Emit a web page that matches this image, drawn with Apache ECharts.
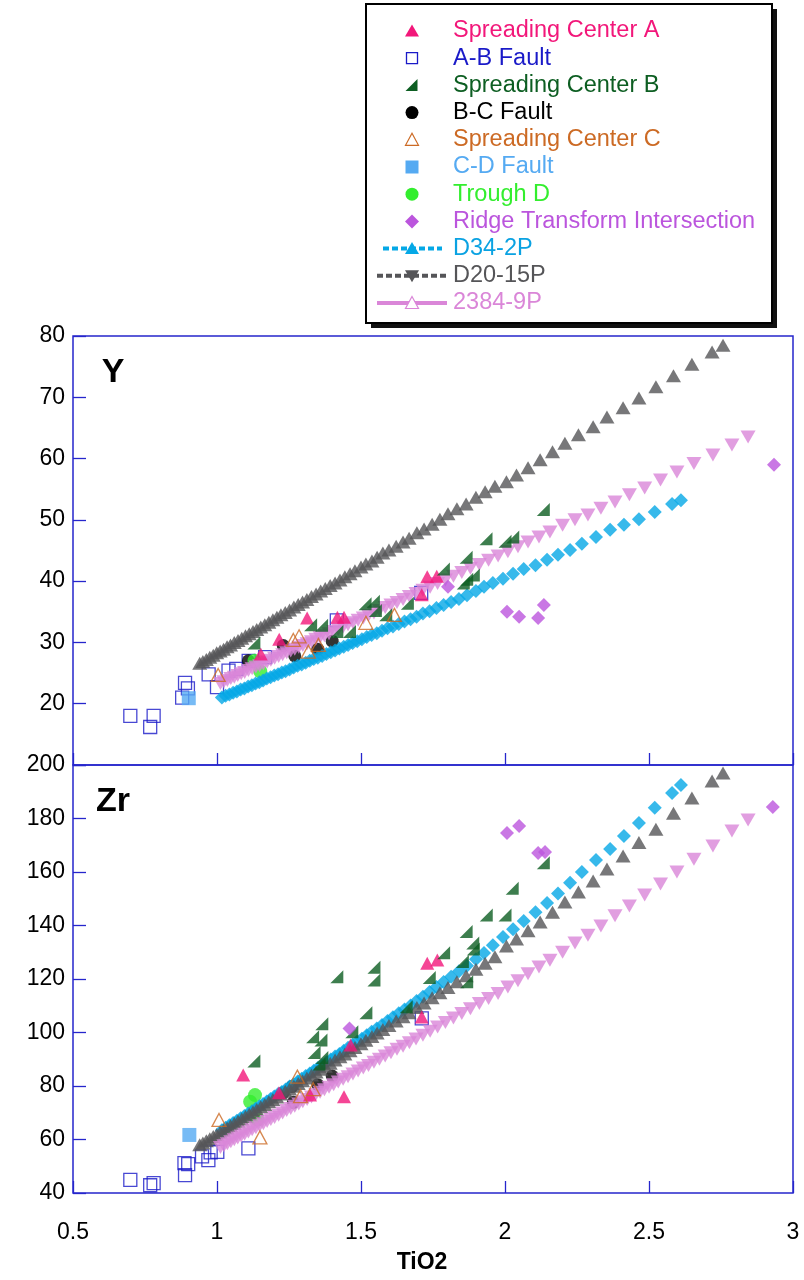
<!DOCTYPE html>
<html>
<head>
<meta charset="utf-8">
<script src="https://cdn.jsdelivr.net/npm/echarts@6/dist/echarts.min.js"></script>
<style>
  html, body { margin: 0; padding: 0; background: #fff; }
  #chart { width: 804px; height: 1280px; }
</style>
</head>
<body>
<div id="chart"></div>
<script>
// ---- axis ticks ----
const xTickLabels = [0.5, 1, 1.5, 2, 2.5, 3];
const yTicksY = [10, 20, 30, 40, 50, 60, 70, 80];
const yTicksZr = [40, 60, 80, 100, 120, 140, 160, 180, 200];

// ---- model curves: D34-2P ----
const d34TiO2 = [1.017, 1.03, 1.043, 1.056, 1.069, 1.082, 1.095, 1.108, 1.121, 1.134, 1.147, 1.16, 1.173, 1.186, 1.199, 1.212, 1.225, 1.238, 1.252, 1.266, 1.28, 1.294, 1.308, 1.322, 1.336, 1.35, 1.365, 1.38, 1.395, 1.41, 1.425, 1.44, 1.455, 1.471, 1.487, 1.503, 1.52, 1.537, 1.555, 1.573, 1.592, 1.611, 1.631, 1.651, 1.672, 1.693, 1.715, 1.738, 1.762, 1.787, 1.813, 1.84, 1.868, 1.899, 1.927, 1.958, 1.993, 2.028, 2.065, 2.106, 2.146, 2.184, 2.226, 2.267, 2.316, 2.365, 2.413, 2.465, 2.52, 2.58, 2.611];
const d34Y = [21.0, 21.3, 21.5, 21.8, 22.0, 22.3, 22.5, 22.8, 23.0, 23.3, 23.5, 23.8, 24.1, 24.3, 24.6, 24.8, 25.1, 25.3, 25.6, 25.9, 26.2, 26.4, 26.7, 27.0, 27.3, 27.5, 27.8, 28.1, 28.4, 28.7, 29.0, 29.3, 29.6, 29.9, 30.2, 30.5, 30.9, 31.2, 31.5, 31.9, 32.3, 32.6, 33.0, 33.4, 33.8, 34.2, 34.7, 35.1, 35.6, 36.1, 36.6, 37.1, 37.7, 38.4, 39.1, 39.7, 40.4, 41.2, 42.0, 42.6, 43.5, 44.3, 45.1, 46.1, 47.2, 48.4, 49.2, 50.1, 51.3, 52.6, 53.2];
const d34Zr = [63.5, 64.4, 65.3, 66.2, 67.0, 67.9, 68.8, 69.7, 70.6, 71.5, 72.4, 73.3, 74.2, 75.1, 76.1, 77.0, 77.8, 78.7, 79.8, 80.7, 81.7, 82.7, 83.7, 84.7, 85.7, 86.7, 87.8, 88.9, 89.9, 91.0, 92.0, 93.2, 94.3, 95.4, 96.6, 97.7, 99.0, 100.3, 101.5, 102.8, 104.3, 105.7, 107.2, 108.6, 110.1, 111.8, 113.4, 115.1, 117.0, 118.9, 120.8, 122.9, 125.0, 127.4, 129.7, 132.6, 135.7, 138.6, 141.7, 145.0, 148.4, 152.0, 156.0, 160.0, 164.5, 168.6, 173.5, 178.3, 184.0, 189.5, 192.5];

// ---- model curves: D20-15P ----
const d20TiO2 = [0.94, 0.951, 0.963, 0.975, 0.987, 0.999, 1.011, 1.023, 1.035, 1.047, 1.06, 1.073, 1.086, 1.099, 1.112, 1.125, 1.138, 1.152, 1.166, 1.18, 1.194, 1.208, 1.222, 1.237, 1.252, 1.267, 1.282, 1.297, 1.312, 1.328, 1.344, 1.36, 1.376, 1.393, 1.41, 1.427, 1.444, 1.462, 1.479, 1.5, 1.517, 1.538, 1.556, 1.576, 1.597, 1.622, 1.646, 1.667, 1.694, 1.719, 1.747, 1.774, 1.802, 1.833, 1.865, 1.899, 1.931, 1.965, 2.005, 2.04, 2.08, 2.122, 2.165, 2.208, 2.255, 2.306, 2.354, 2.41, 2.465, 2.524, 2.585, 2.649, 2.719, 2.757];
const d20Y = [26.6, 26.9, 27.2, 27.6, 27.9, 28.3, 28.6, 28.9, 29.3, 29.6, 30.0, 30.3, 30.7, 31.1, 31.4, 31.8, 32.1, 32.5, 32.9, 33.3, 33.7, 34.1, 34.5, 34.9, 35.3, 35.8, 36.2, 36.6, 37.0, 37.5, 37.9, 38.4, 38.8, 39.3, 39.7, 40.2, 40.7, 41.2, 41.7, 42.3, 42.8, 43.3, 43.9, 44.6, 45.1, 45.7, 46.4, 47.0, 47.9, 48.5, 49.3, 50.1, 51.0, 51.8, 52.6, 53.7, 54.6, 55.5, 56.2, 57.3, 58.5, 59.8, 61.1, 62.5, 63.9, 65.2, 66.8, 68.3, 69.9, 71.7, 73.5, 75.4, 77.4, 78.5];
const d20Zr = [58.0, 58.7, 59.5, 60.3, 61.1, 61.9, 62.7, 63.5, 64.3, 65.1, 66.0, 66.8, 67.7, 68.6, 69.4, 70.3, 71.2, 72.2, 73.1, 74.1, 75.0, 75.9, 77.0, 78.0, 78.9, 79.9, 80.9, 82.0, 83.0, 84.1, 85.2, 86.3, 87.4, 88.5, 89.7, 90.9, 92.0, 93.2, 94.4, 95.8, 97.1, 98.5, 99.8, 101.1, 102.6, 104.3, 105.9, 107.4, 109.3, 111.0, 113.0, 114.9, 116.8, 119.0, 121.2, 123.6, 125.9, 128.3, 132.3, 135.0, 138.0, 141.3, 145.0, 148.8, 152.5, 156.6, 161.1, 166.0, 171.0, 176.0, 182.0, 187.7, 194.0, 197.0];

// ---- model curves: 2384-9P ----
const p2384TiO2 = [1.012, 1.024, 1.036, 1.048, 1.06, 1.072, 1.084, 1.096, 1.109, 1.122, 1.135, 1.148, 1.161, 1.174, 1.187, 1.2, 1.214, 1.228, 1.242, 1.256, 1.27, 1.284, 1.298, 1.313, 1.328, 1.343, 1.358, 1.373, 1.389, 1.405, 1.421, 1.438, 1.455, 1.472, 1.49, 1.508, 1.526, 1.545, 1.564, 1.584, 1.604, 1.625, 1.646, 1.668, 1.691, 1.715, 1.74, 1.766, 1.793, 1.821, 1.85, 1.88, 1.911, 1.943, 1.976, 2.01, 2.045, 2.08, 2.118, 2.156, 2.2, 2.243, 2.288, 2.333, 2.382, 2.432, 2.485, 2.54, 2.597, 2.656, 2.722, 2.788, 2.844];
const p2384Y = [23.3, 23.6, 23.8, 24.1, 24.3, 24.6, 24.9, 25.1, 25.4, 25.7, 26.0, 26.2, 26.5, 26.8, 27.1, 27.4, 27.7, 28.0, 28.3, 28.6, 28.9, 29.2, 29.5, 29.8, 30.1, 30.5, 30.8, 31.1, 31.4, 31.8, 32.1, 32.5, 32.9, 33.2, 33.6, 34.0, 34.4, 34.8, 35.2, 35.7, 36.1, 36.5, 37.0, 37.5, 38.0, 38.5, 39.0, 39.6, 40.2, 40.8, 41.4, 42.1, 42.7, 43.4, 44.1, 44.8, 45.6, 46.4, 47.2, 48.0, 49.1, 50.0, 50.8, 51.9, 52.9, 54.1, 55.2, 56.5, 57.8, 59.2, 60.6, 62.2, 63.5];
const p2384Zr = [57.0, 57.7, 58.4, 59.2, 59.9, 60.6, 61.3, 62.0, 62.8, 63.6, 64.4, 65.1, 65.9, 66.7, 67.5, 68.2, 69.1, 69.9, 70.8, 71.6, 72.4, 73.3, 74.1, 75.0, 75.9, 76.8, 77.7, 78.6, 79.5, 80.5, 81.5, 82.5, 83.5, 84.5, 85.6, 86.7, 87.7, 88.9, 90.0, 91.2, 92.4, 93.7, 94.9, 96.2, 97.6, 99.0, 100.5, 102.1, 103.7, 105.4, 107.1, 108.9, 110.8, 112.7, 114.6, 117.0, 119.3, 122.0, 124.5, 127.0, 130.0, 133.5, 136.4, 139.8, 143.6, 147.3, 151.4, 155.5, 160.0, 164.8, 169.7, 175.3, 179.4];

// ---- samples: [TiO2, Y] ----
const scA_Y = [[1.152, 28.1], [1.216, 30.5], [1.313, 34.0], [1.418, 34.1], [1.441, 34.1], [1.711, 37.8], [1.73, 40.7], [1.763, 40.8]];
const abFault_Y = [[0.699, 18.0], [0.768, 16.2], [0.78, 18.0], [0.879, 21.0], [0.889, 23.4], [0.899, 22.5], [0.971, 24.8], [1.0, 22.7], [1.04, 25.4], [1.067, 25.7], [1.11, 27.0], [1.167, 27.6], [1.416, 33.6], [1.709, 38.1]];
const scB_Y = [[1.128, 29.9], [1.325, 32.9], [1.363, 32.8], [1.416, 31.8], [1.46, 31.8], [1.514, 36.3], [1.543, 36.7], [1.55, 35.2], [1.586, 34.5], [1.661, 36.4], [1.786, 42.0], [1.855, 39.7], [1.867, 40.3], [1.89, 41.0], [1.865, 43.9], [1.934, 46.9], [2.0, 46.5], [2.027, 47.2], [2.133, 51.7]];
const bcFault_Y = [[1.109, 27.0], [1.23, 29.5], [1.27, 27.8], [1.35, 28.9], [1.40, 30.2]];
const scC_Y = [[1.004, 24.7], [1.265, 30.4], [1.285, 31.0], [1.317, 28.5], [1.352, 29.6], [1.517, 33.2], [1.616, 34.5]];
const cdFault_Y = [[0.902, 20.9]];
const troughD_Y = [[1.13, 27.0], [1.15, 25.3]];
const rti_Y = [[1.802, 39.1], [2.007, 35.0], [2.049, 34.2], [2.115, 34.0], [2.135, 36.1], [2.934, 59.0]];

// ---- samples: [TiO2, Zr] ----
const scA_Zr = [[1.091, 84.1], [1.215, 77.5], [1.323, 76.6], [1.441, 76.0], [1.464, 95.3], [1.711, 105.8], [1.73, 125.9], [1.765, 127.1]];
const abFault_Zr = [[0.699, 44.9], [0.768, 42.9], [0.78, 43.7], [0.887, 51.2], [0.889, 46.7], [0.9, 50.8], [0.948, 53.7], [0.97, 52.3], [0.978, 55.2], [1.001, 55.4], [1.109, 56.7], [1.711, 105.3]];
const scB_Zr = [[1.128, 89.3], [1.332, 98.4], [1.337, 92.5], [1.354, 88.2], [1.361, 97.2], [1.364, 90.7], [1.364, 103.3], [1.416, 120.8], [1.468, 100.3], [1.517, 107.4], [1.545, 124.4], [1.545, 119.6], [1.657, 109.6], [1.737, 120.6], [1.787, 129.8], [1.852, 126.5], [1.865, 137.8], [1.867, 119.0], [1.888, 133.5], [1.89, 131.2], [1.935, 143.9], [2.0, 143.9], [2.025, 153.9], [2.133, 163.5]];
const bcFault_Zr = [[1.23, 77.5], [1.26, 79.8], [1.265, 73.9], [1.35, 80.5], [1.40, 83.7]];
const scC_Zr = [[1.007, 67.3], [1.149, 60.8], [1.279, 83.5], [1.29, 76.2], [1.334, 78.8]];
const cdFault_Zr = [[0.904, 61.7]];
const troughD_Zr = [[1.115, 74.1], [1.132, 76.6], [1.14, 67.5]];
const rti_Zr = [[1.46, 101.5], [2.007, 174.6], [2.049, 177.2], [2.115, 167.1], [2.139, 167.5], [2.93, 184.3]];

// ---- styling ----
const FONT = 'Liberation Sans, Arial, Helvetica, sans-serif';
const FRAME = '#2626cc';
const C = {
  scA: '#f2177a', ab: '#1a1ac8', scB: '#0d5e22', bc: '#000000', scC: '#cc6a24',
  cd: '#55aaf2', tr: '#33ee2e', rti: '#bb55dd', d34: '#05a8e6', d20: '#555558', p2384: '#da86d8'
};
const rightTri = 'path://M10,0 L10,10 L0,10 Z';

function zip(xs, ys) { return xs.map((x, i) => [x, ys[i]]); }

// series for one panel (index 0 = Y, 1 = Zr); sample groups that sit under the
// model curves come first, the rest are drawn above them
function panelSeries(k, d) {
  const base = { type: 'scatter', xAxisIndex: k, yAxisIndex: k, silent: true };
  return [
    Object.assign({}, base, { name: 'A-B Fault', data: d.ab, symbol: 'rect', symbolSize: 13,
      itemStyle: { color: 'rgba(0,0,0,0)', borderColor: C.ab, borderWidth: 1.3 } }),
    Object.assign({}, base, { name: 'B-C Fault', data: d.bc, symbol: 'circle', symbolSize: 13,
      itemStyle: { color: C.bc } }),
    Object.assign({}, base, { name: 'C-D Fault', data: d.cd, symbol: 'rect', symbolSize: 14,
      itemStyle: { color: C.cd } }),
    Object.assign({}, base, { name: 'Trough D', data: d.tr, symbol: 'circle', symbolSize: 14,
      itemStyle: { color: C.tr } }),
    Object.assign({}, base, { name: 'D34-2P', data: d.d34, symbol: 'diamond', symbolSize: [14, 14],
      itemStyle: { color: C.d34 } }),
    Object.assign({}, base, { name: 'D20-15P', data: d.d20, symbol: 'triangle', symbolSize: [15, 13],
      itemStyle: { color: C.d20 } }),
    Object.assign({}, base, { name: '2384-9P', data: d.p2384, symbol: 'triangle', symbolRotate: 180, symbolSize: [15, 13],
      itemStyle: { color: C.p2384 } }),
    Object.assign({}, base, { name: 'Spreading Center A', data: d.scA, symbol: 'triangle', symbolSize: [14, 13],
      itemStyle: { color: C.scA } }),
    Object.assign({}, base, { name: 'Spreading Center B', data: d.scB, symbol: rightTri, symbolSize: [13, 13],
      itemStyle: { color: C.scB } }),
    Object.assign({}, base, { name: 'Spreading Center C', data: d.scC, symbol: 'triangle', symbolSize: [14, 13],
      itemStyle: { color: 'rgba(0,0,0,0)', borderColor: C.scC, borderWidth: 1.3 } }),
    Object.assign({}, base, { name: 'Ridge Transform Intersection', data: d.rti, symbol: 'diamond', symbolSize: [14, 14],
      itemStyle: { color: C.rti } })
  ];
}

const seriesY = panelSeries(0, {
  ab: abFault_Y, bc: bcFault_Y, cd: cdFault_Y, tr: troughD_Y,
  d34: zip(d34TiO2, d34Y), d20: zip(d20TiO2, d20Y), p2384: zip(p2384TiO2, p2384Y),
  scA: scA_Y, scB: scB_Y, scC: scC_Y, rti: rti_Y
});
const seriesZr = panelSeries(1, {
  ab: abFault_Zr, bc: bcFault_Zr, cd: cdFault_Zr, tr: troughD_Zr,
  d34: zip(d34TiO2, d34Zr), d20: zip(d20TiO2, d20Zr), p2384: zip(p2384TiO2, p2384Zr),
  scA: scA_Zr, scB: scB_Zr, scC: scC_Zr, rti: rti_Zr
});

function xAxisFor(k) {
  return {
    type: 'value', gridIndex: k,
    min: xTickLabels[0], max: xTickLabels[xTickLabels.length - 1], interval: 0.5,
    axisLine: { show: false },
    axisTick: { show: true, inside: true, length: 12, lineStyle: { color: FRAME, width: 1.3 } },
    splitLine: { show: false },
    axisLabel: { show: k === 1, margin: 28, fontSize: 23, color: '#000', fontFamily: FONT }
  };
}
function yAxisFor(k, ticks, hideFirst) {
  return {
    type: 'value', gridIndex: k,
    min: ticks[0], max: ticks[ticks.length - 1], interval: ticks[1] - ticks[0],
    axisLine: { show: false },
    axisTick: { show: true, inside: true, length: 13, lineStyle: { color: FRAME, width: 1.3 } },
    splitLine: { show: false },
    axisLabel: {
      margin: 8, fontSize: 23, color: '#000', fontFamily: FONT,
      formatter: v => (hideFirst && v === ticks[0]) ? '' : String(v)
    }
  };
}

// ---- legend (drawn as graphics) ----
const legendRows = [
  { label: 'Spreading Center A', color: C.scA, mark: 'triUp' },
  { label: 'A-B Fault', color: C.ab, mark: 'openSquare' },
  { label: 'Spreading Center B', color: C.scB, mark: 'rightTri' },
  { label: 'B-C Fault', color: C.bc, mark: 'circle' },
  { label: 'Spreading Center C', color: C.scC, mark: 'openTri' },
  { label: 'C-D Fault', color: C.cd, mark: 'square' },
  { label: 'Trough D', color: C.tr, mark: 'circle' },
  { label: 'Ridge Transform Intersection', color: C.rti, mark: 'diamond' },
  { label: 'D34-2P', color: C.d34, mark: 'dashTri', textColor: '#0aa2e2' },
  { label: 'D20-15P', color: C.d20, mark: 'dashDown' },
  { label: '2384-9P', color: C.p2384, mark: 'solidOpenTri' }
];

function legendGraphics() {
  const g = [];
  g.push({ type: 'rect', shape: { x: 371, y: 9, width: 406, height: 319 }, style: { fill: '#111' }, z: 100 });
  g.push({ type: 'rect', shape: { x: 366, y: 4, width: 406, height: 319 },
    style: { fill: '#fff', stroke: '#000', lineWidth: 2 }, z: 101 });
  const mx = 412;
  legendRows.forEach((r, i) => {
    const cy = 31 + i * 27.2;
    const z = 102;
    switch (r.mark) {
      case 'triUp':
        g.push({ type: 'polygon', shape: { points: [[mx, cy - 6.5], [mx + 7, cy + 5.5], [mx - 7, cy + 5.5]] }, style: { fill: r.color }, z });
        break;
      case 'openSquare':
        g.push({ type: 'rect', shape: { x: mx - 5.5, y: cy - 5.5, width: 11, height: 11 }, style: { fill: 'none', stroke: r.color, lineWidth: 1.3 }, z });
        break;
      case 'rightTri':
        g.push({ type: 'polygon', shape: { points: [[mx + 5.5, cy - 6.5], [mx + 5.5, cy + 5.5], [mx - 6.5, cy + 5.5]] }, style: { fill: r.color }, z });
        break;
      case 'circle':
        g.push({ type: 'circle', shape: { cx: mx, cy: cy, r: 6.5 }, style: { fill: r.color }, z });
        break;
      case 'openTri':
        g.push({ type: 'polygon', shape: { points: [[mx, cy - 6.5], [mx + 6.5, cy + 5.5], [mx - 6.5, cy + 5.5]] }, style: { fill: 'none', stroke: r.color, lineWidth: 1.2 }, z });
        break;
      case 'square':
        g.push({ type: 'rect', shape: { x: mx - 6.5, y: cy - 6.5, width: 13, height: 13 }, style: { fill: r.color }, z });
        break;
      case 'diamond':
        g.push({ type: 'polygon', shape: { points: [[mx, cy - 7], [mx + 7, cy], [mx, cy + 7], [mx - 7, cy]] }, style: { fill: r.color }, z });
        break;
      case 'dashTri':
        g.push({ type: 'line', shape: { x1: 383, y1: cy, x2: 442, y2: cy }, style: { stroke: r.color, lineWidth: 4, lineDash: [6, 3] }, z });
        g.push({ type: 'polygon', shape: { points: [[mx, cy - 6.5], [mx + 7, cy + 5.5], [mx - 7, cy + 5.5]] }, style: { fill: r.color }, z: z + 1 });
        break;
      case 'dashDown':
        g.push({ type: 'line', shape: { x1: 377, y1: cy, x2: 446, y2: cy }, style: { stroke: r.color, lineWidth: 4, lineDash: [6, 3] }, z });
        g.push({ type: 'polygon', shape: { points: [[mx - 7, cy - 5.5], [mx + 7, cy - 5.5], [mx, cy + 6.5]] }, style: { fill: r.color }, z: z + 1 });
        break;
      case 'solidOpenTri':
        g.push({ type: 'line', shape: { x1: 377, y1: cy, x2: 447, y2: cy }, style: { stroke: r.color, lineWidth: 4 }, z });
        g.push({ type: 'polygon', shape: { points: [[mx, cy - 6.5], [mx + 6.5, cy + 5.5], [mx - 6.5, cy + 5.5]] }, style: { fill: '#fff', stroke: r.color, lineWidth: 1.2 }, z: z + 1 });
        break;
    }
    g.push({ type: 'text', x: 453, y: cy, z,
      style: { text: r.label, fill: r.textColor || r.color, font: '23.5px ' + FONT, textVerticalAlign: 'middle', textAlign: 'left' } });
  });
  return g;
}

const chart = echarts.init(document.getElementById('chart'), null, { renderer: 'canvas' });
chart.setOption({
  animation: false,
  backgroundColor: '#fff',
  grid: [
    { left: 73, top: 336, width: 720, height: 429, show: true, borderColor: FRAME, borderWidth: 1.5, backgroundColor: 'rgba(0,0,0,0)' },
    { left: 73, top: 765, width: 720, height: 428, show: true, borderColor: FRAME, borderWidth: 1.5, backgroundColor: 'rgba(0,0,0,0)' }
  ],
  xAxis: [xAxisFor(0), xAxisFor(1)],
  yAxis: [yAxisFor(0, yTicksY, true), yAxisFor(1, yTicksZr, false)],
  series: seriesY.concat(seriesZr),
  graphic: legendGraphics().concat([
    { type: 'text', x: 113, y: 373, z: 50, style: { text: 'Y', font: 'bold 34px ' + FONT, fill: '#000', textAlign: 'center', textVerticalAlign: 'middle' } },
    { type: 'text', x: 113, y: 802, z: 50, style: { text: 'Zr', font: 'bold 34px ' + FONT, fill: '#000', textAlign: 'center', textVerticalAlign: 'middle' } },
    { type: 'text', x: 422, y: 1263, z: 50, style: { text: 'TiO2', font: 'bold 23px ' + FONT, fill: '#000', textAlign: 'center', textVerticalAlign: 'middle' } }
  ])
});
</script>
</body>
</html>
